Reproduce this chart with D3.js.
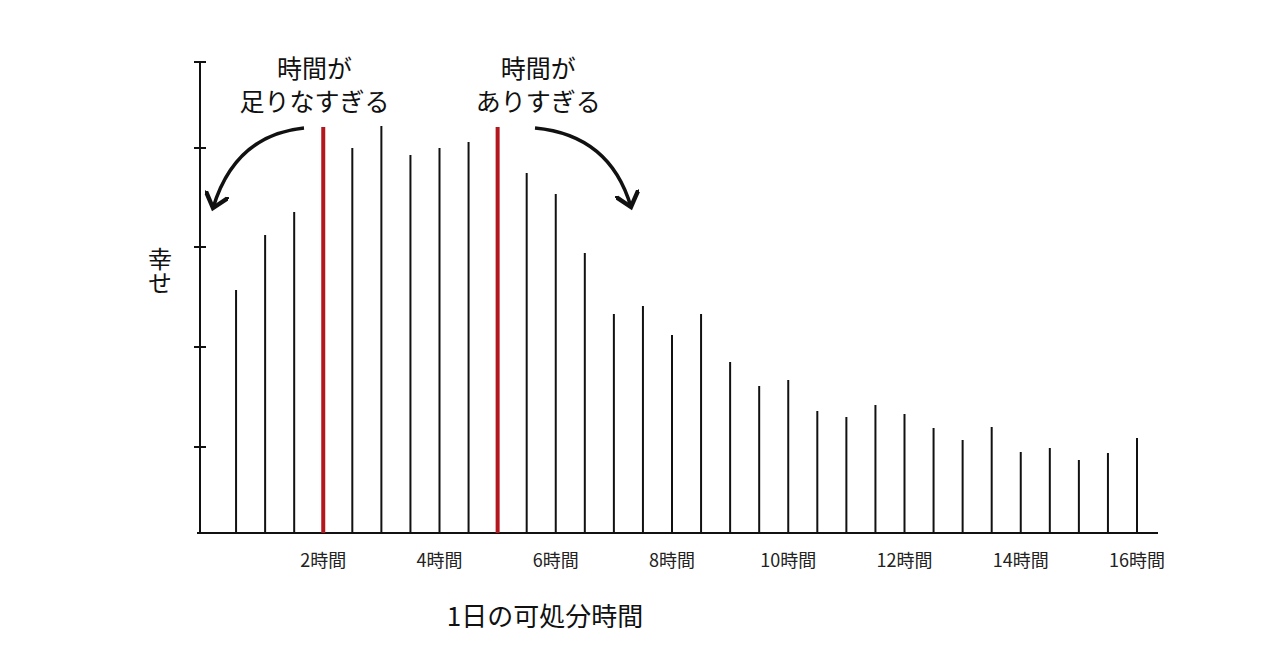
<!DOCTYPE html>
<html><head><meta charset="utf-8">
<script src="https://cdn.jsdelivr.net/npm/d3@7"></script>
<style>body{margin:0;background:#fff}text{font-family:"Noto Sans CJK JP","Noto Sans",sans-serif}</style>
</head><body><div id="chart"></div>
<script>
var hours = [0.5,1,1.5,2,2.5,3,3.5,4,4.5,5,5.5,6,6.5,7,7.5,8,8.5,9,9.5,10,10.5,11,11.5,12,12.5,13,13.5,14,14.5,15,15.5,16];
var happiness = [2.43,2.98,3.21,4.06,3.85,4.07,3.78,3.85,3.91,4.06,3.60,3.39,2.80,2.19,2.27,1.98,2.19,1.71,1.47,1.53,1.22,1.16,1.28,1.19,1.05,0.93,1.06,0.81,0.85,0.73,0.80,0.95];
var redHours = [2,5];
var tickHours = [2,4,6,8,10,12,14,16];
var yTicks = [0.86,1.86,2.86,3.85];
var notes = [{h:1.85, lines:["時間が","足りなすぎる"]},{h:5.7, lines:["時間が","ありすぎる"]}];

var width = 1280, height = 670;
var svg = d3.select("#chart").append("svg").attr("width", width).attr("height", height);

var x = d3.scaleLinear().domain([0,16]).range([207,1137]);
var y = d3.scaleLinear().domain([0,4.71]).range([533,62]);

// axes
svg.append("line").attr("x1",197).attr("x2",1158).attr("y1",y(0)).attr("y2",y(0))
   .attr("stroke","#111").attr("stroke-width",2);
svg.append("line").attr("x1",200).attr("x2",200).attr("y1",y(0)).attr("y2",y(4.71))
   .attr("stroke","#111").attr("stroke-width",2);
svg.selectAll(".ytick").data(yTicks.concat([4.71])).enter().append("line")
   .attr("x1",194).attr("x2",206).attr("y1",d=>y(d)).attr("y2",d=>y(d))
   .attr("stroke","#111").attr("stroke-width",2);

// bars
svg.selectAll(".bar").data(hours).enter().append("line")
   .attr("x1",d=>x(d)).attr("x2",d=>x(d))
   .attr("y1",y(0)).attr("y2",(d,i)=>y(happiness[i]))
   .attr("stroke",d=>redHours.includes(d)?"#b3161c":"#111")
   .attr("stroke-width",d=>redHours.includes(d)?4:2);

// tick labels
svg.selectAll(".xl").data(tickHours).enter().append("text")
   .attr("x",d=>x(d)).attr("y",567).attr("text-anchor","middle")
   .attr("font-size",18).attr("fill","#222").text(d=>d+"時間");

svg.append("text").attr("x",545).attr("y",626).attr("text-anchor","middle")
   .attr("font-size",26).attr("fill","#111").text("1日の可処分時間");

svg.append("text").attr("x",160).attr("y",247).attr("font-size",24)
   .attr("fill","#111").style("writing-mode","vertical-rl").text("幸せ");

// annotations
notes.forEach(n => {
  var t = svg.append("text").attr("text-anchor","middle").attr("font-size",25).attr("fill","#111");
  n.lines.forEach((l,i) => t.append("tspan").attr("x",x(n.h)).attr("y",78+i*33).text(l));
});

var defs = svg.append("defs");
defs.append("marker").attr("id","ah").attr("viewBox","0 0 10 10").attr("refX",6).attr("refY",5)
   .attr("markerWidth",7).attr("markerHeight",7).attr("orient","auto")
   .append("path").attr("d","M0,0 L6,5 L0,10").attr("fill","none").attr("stroke","#111").attr("stroke-width",1.8);

svg.append("path").attr("d","M304,128 Q235,135 213,208").attr("fill","none")
   .attr("stroke","#111").attr("stroke-width",3.5).attr("marker-end","url(#ah)");
svg.append("path").attr("d","M535,128 Q610,135 631,207").attr("fill","none")
   .attr("stroke","#111").attr("stroke-width",3.5).attr("marker-end","url(#ah)");
</script></body></html>
